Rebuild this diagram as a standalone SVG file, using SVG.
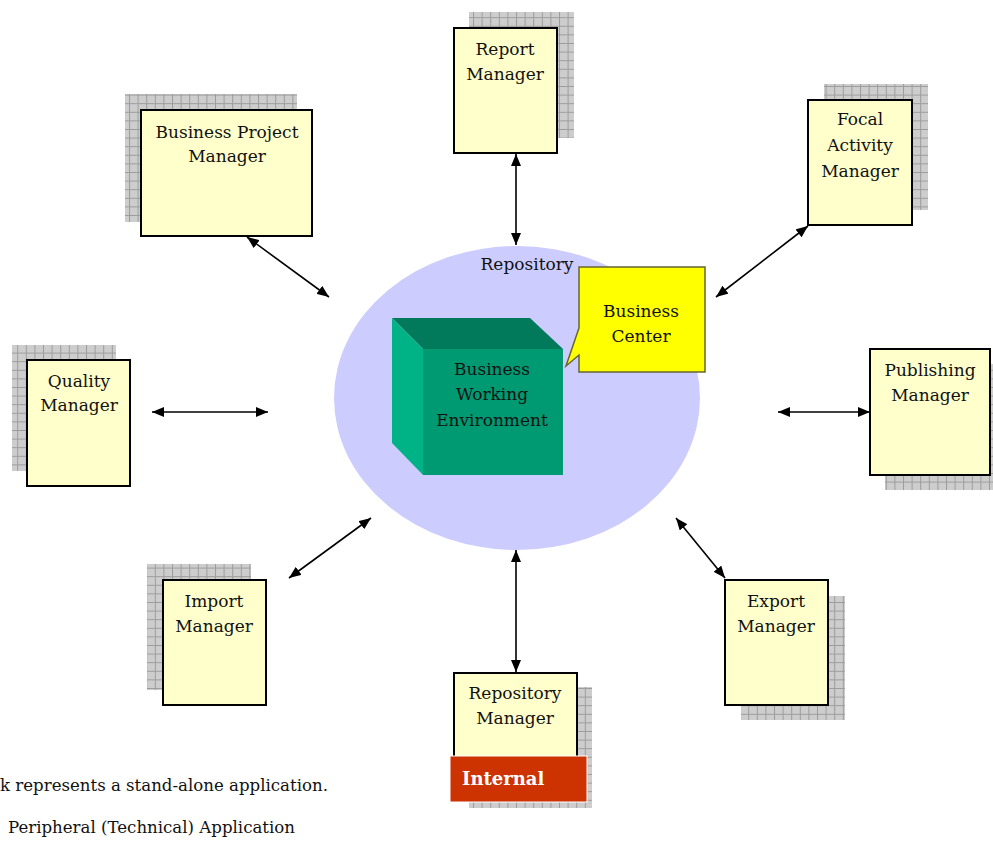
<svg xmlns="http://www.w3.org/2000/svg" width="993" height="849" viewBox="0 0 993 849">
<defs>
<pattern id="grid" width="8.6" height="8.6" patternUnits="userSpaceOnUse">
<rect width="8.6" height="8.6" fill="#cdcdcd"/>
<path d="M0 0.5H8.6M0.5 0V8.6" stroke="#9c9c9c" stroke-width="1"/>
</pattern>
<marker id="ah" viewBox="0 0 12 10" refX="12" refY="5" markerWidth="12" markerHeight="10" markerUnits="userSpaceOnUse" orient="auto-start-reverse">
<path d="M0 0L12 5L0 10z" fill="#000"/>
</marker>
<style>
.sh{fill:url(#grid)}
.bx{fill:#ffffcc;stroke:#000;stroke-width:2}
.t{font-family:"DejaVu Serif","Liberation Serif",serif;font-size:17px;fill:#111;text-anchor:middle}
.n{font-family:"DejaVu Serif","Liberation Serif",serif;font-size:16.6px;fill:#111}
.c{stroke:#000;stroke-width:1.6;fill:none;marker-start:url(#ah);marker-end:url(#ah)}
</style>
</defs>
<rect width="993" height="849" fill="#fff"/>

<g id="repository">
<ellipse cx="517" cy="398" rx="183" ry="152" fill="#ccccff"/>
<text class="t" x="527" y="270">Repository</text>
</g>

<g id="bwe">
<polygon points="392,318 530,318 563,349 423,349" fill="#007a5a"/>
<polygon points="392,318 423,349 423,475 392,443" fill="#00b386"/>
<rect x="423" y="349" width="140" height="126" fill="#009a72"/>
<text class="t" x="492" y="375">Business</text>
<text class="t" x="492" y="400">Working</text>
<text class="t" x="492" y="426">Environment</text>
</g>

<g id="business-center">
<path d="M579 267H705V372H579V355L566 366L579 328Z" fill="#ffff00" stroke="#666633" stroke-width="1.5"/>
<text class="t" x="641" y="317">Business</text>
<text class="t" x="641" y="342">Center</text>
</g>

<g id="report-manager">
<rect class="sh" x="469" y="12" width="105" height="126"/>
<rect class="bx" x="454" y="28" width="103" height="125"/>
<text class="t" x="505" y="55">Report</text>
<text class="t" x="505" y="80">Manager</text>
</g>

<g id="business-project-manager">
<rect class="sh" x="125" y="94" width="172" height="128"/>
<rect class="bx" x="141" y="110" width="171" height="126"/>
<text class="t" x="227" y="138">Business Project</text>
<text class="t" x="227" y="162">Manager</text>
</g>

<g id="focal-activity-manager">
<rect class="sh" x="824" y="84" width="104" height="126"/>
<rect class="bx" x="808" y="100" width="104" height="125"/>
<text class="t" x="860" y="125">Focal</text>
<text class="t" x="860" y="151">Activity</text>
<text class="t" x="860" y="177">Manager</text>
</g>

<g id="quality-manager">
<rect class="sh" x="12" y="345" width="104" height="126"/>
<rect class="bx" x="27" y="360" width="103" height="126"/>
<text class="t" x="79" y="387">Quality</text>
<text class="t" x="79" y="411">Manager</text>
</g>

<g id="publishing-manager">
<rect class="sh" x="885" y="364" width="110" height="126"/>
<rect class="bx" x="870" y="349" width="120" height="126"/>
<text class="t" x="930" y="376">Publishing</text>
<text class="t" x="930" y="401">Manager</text>
</g>

<g id="import-manager">
<rect class="sh" x="147" y="564" width="104" height="126"/>
<rect class="bx" x="163" y="580" width="103" height="125"/>
<text class="t" x="214" y="607">Import</text>
<text class="t" x="214" y="632">Manager</text>
</g>

<g id="export-manager">
<rect class="sh" x="741" y="596" width="104" height="124"/>
<rect class="bx" x="725" y="580" width="103" height="125"/>
<text class="t" x="776" y="607">Export</text>
<text class="t" x="776" y="632">Manager</text>
</g>

<g id="repository-manager">
<rect class="sh" x="469" y="687" width="123" height="121"/>
<rect class="bx" x="454" y="673" width="123" height="122"/>
<text class="t" x="515" y="699">Repository</text>
<text class="t" x="515" y="724">Manager</text>
<rect x="450" y="756" width="137" height="46" fill="#cc3300" stroke="#fff" stroke-width="1"/>
<text x="462" y="785" font-family="DejaVu Serif, Liberation Serif, serif" font-size="18" font-weight="bold" fill="#fff">Internal</text>
</g>

<g id="connectors">
<line class="c" x1="516" y1="154" x2="516" y2="245"/>
<line class="c" x1="247" y1="237" x2="329" y2="297"/>
<line class="c" x1="808" y1="226" x2="716" y2="297"/>
<line class="c" x1="152" y1="412" x2="268" y2="412"/>
<line class="c" x1="778" y1="412" x2="870" y2="412"/>
<line class="c" x1="289" y1="578" x2="371" y2="518"/>
<line class="c" x1="516" y1="550" x2="516" y2="672"/>
<line class="c" x1="676" y1="518" x2="725" y2="578"/>
</g>

<g id="notes">
<text class="n" x="0" y="791">k represents a stand-alone application.</text>
<text class="n" x="8" y="833">Peripheral (Technical) Application</text>
</g>
</svg>
